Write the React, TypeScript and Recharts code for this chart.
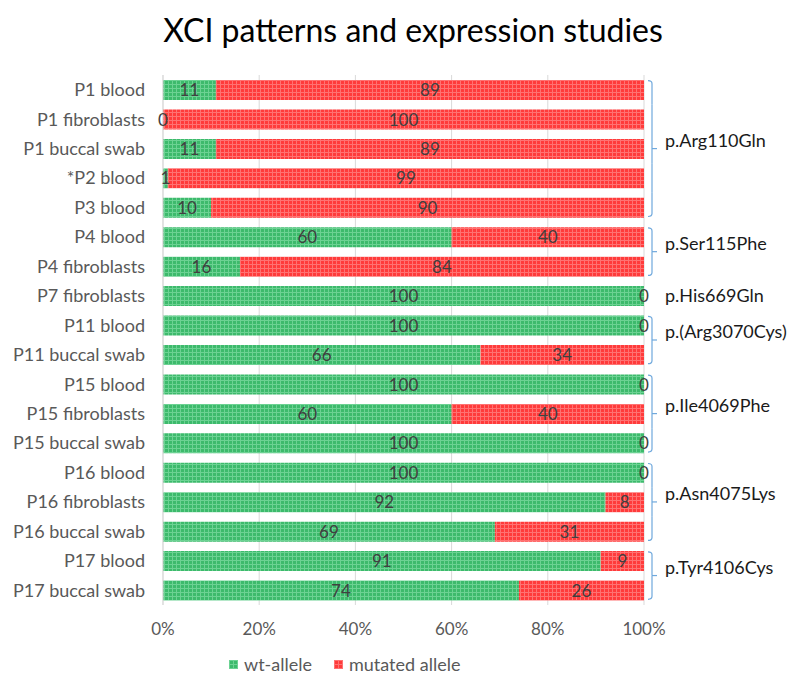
import React from 'react';
import {
  BarChart, Bar, XAxis, YAxis, CartesianGrid, LabelList, Legend,
} from 'recharts';

const CATEGORIES = [
  'P1 blood', 'P1 fibroblasts', 'P1 buccal swab', '*P2 blood', 'P3 blood',
  'P4 blood', 'P4 fibroblasts', 'P7 fibroblasts', 'P11 blood', 'P11 buccal swab',
  'P15 blood', 'P15 fibroblasts', 'P15 buccal swab', 'P16 blood', 'P16 fibroblasts',
  'P16 buccal swab', 'P17 blood', 'P17 buccal swab',
];
const WT_ALLELE = [11, 0, 11, 1, 10, 60, 16, 100, 100, 66, 100, 60, 100, 100, 92, 69, 91, 74];
const MUTATED_ALLELE = [89, 100, 89, 99, 90, 40, 84, 0, 0, 34, 0, 40, 0, 0, 8, 31, 9, 26];
const X_TICKS = [0, 20, 40, 60, 80, 100];
const GROUPS = [
  { label: 'p.Arg110Gln', start: 0, end: 4 },
  { label: 'p.Ser115Phe', start: 5, end: 6 },
  { label: 'p.His669Gln', start: 7, end: 7 },
  { label: 'p.(Arg3070Cys)', start: 8, end: 9 },
  { label: 'p.Ile4069Phe', start: 10, end: 12 },
  { label: 'p.Asn4075Lys', start: 13, end: 15 },
  { label: 'p.Tyr4106Cys', start: 16, end: 17 },
];

const data = CATEGORIES.map((name, i) => ({ name, wt: WT_ALLELE[i], mut: MUTATED_ALLELE[i] }));

const W = 784;
const H = 673;
const M_TOP = 67;
const M_BOTTOM = 46;
const X_AXIS_H = 30;
const STEP = (H - M_TOP - M_BOTTOM - X_AXIS_H) / CATEGORIES.length;
const FONT = 'Lato, "Open Sans", sans-serif';
const BRACKET = '#6FA8DC';

function BracketTick(props: any) {
  const { x, y, payload } = props;
  const i = payload.index;
  const g = GROUPS.find(gr => i >= gr.start && i <= gr.end);
  if (!g) return null;
  const tx = x + 21;
  if (g.start === g.end) {
    return (
      <text x={tx} y={y} dy="0.35em" fontSize={18} fill="#1a1a1a" fontFamily={FONT}>{g.label}</text>
    );
  }
  const vx = x + 8;
  const n = g.end - g.start + 1;
  const midRow = n % 2 === 1 ? g.start + (n - 1) / 2 : g.start + n / 2 - 1;
  const midY = n % 2 === 1 ? y : y + STEP / 2;
  const top = i === g.start ? y - 9 : y - STEP / 2;
  const bot = i === g.end ? y + 9 : y + STEP / 2;
  let d = '';
  if (i === g.start) d += `M${vx - 4},${top} Q${vx},${top} ${vx},${top + 3} `;
  else d += `M${vx},${top} `;
  if (i === g.end) d += `L${vx},${bot - 3} Q${vx},${bot} ${vx - 4},${bot}`;
  else d += `L${vx},${bot}`;
  return (
    <g>
      <path d={d} fill="none" stroke={BRACKET} strokeWidth={1.2} />
      {i === midRow && (
        <>
          <line x1={vx} x2={vx + 5} y1={midY} y2={midY} stroke={BRACKET} strokeWidth={1.2} />
          <text x={tx} y={midY - 8} dy="0.35em" fontSize={18} fill="#1a1a1a" fontFamily={FONT}>{g.label}</text>
        </>
      )}
    </g>
  );
}

function Num({ x, y, v }: { x: number; y: number; v: number }) {
  return (
    <text x={x} y={y} dy="0.36em" textAnchor="middle" fontSize={17} fill="#404040" fontFamily={FONT}>
      {v}
    </text>
  );
}

// recharts skips zero-width segments, so the neighbouring segment also prints
// the "0" at its own edge. The label value is the category name (row lookup).
function WtLabel(props: any) {
  const { x, y, width, height, value } = props;
  const i = CATEGORIES.indexOf(value);
  const cy = y + height / 2;
  return (
    <g>
      <Num x={x + width / 2} y={cy} v={WT_ALLELE[i]} />
      {MUTATED_ALLELE[i] === 0 && <Num x={x + width} y={cy} v={0} />}
    </g>
  );
}

function MutLabel(props: any) {
  const { x, y, width, height, value } = props;
  const i = CATEGORIES.indexOf(value);
  const cy = y + height / 2;
  return (
    <g>
      <Num x={x + width / 2} y={cy} v={MUTATED_ALLELE[i]} />
      {WT_ALLELE[i] === 0 && <Num x={x} y={cy} v={0} />}
    </g>
  );
}

function LegendContent() {
  const items = [
    { name: 'wt-allele', fill: 'url(#wtPat)' },
    { name: 'mutated allele', fill: 'url(#mutPat)' },
  ];
  return (
    <div style={{ display: 'flex', gap: 22, fontFamily: FONT, fontSize: 18, color: '#595959' }}>
      {items.map(it => (
        <div key={it.name} style={{ display: 'flex', alignItems: 'center', gap: 6 }}>
          <svg width={9} height={9}><rect width={9} height={9} fill={it.fill} /></svg>
          <span>{it.name}</span>
        </div>
      ))}
    </div>
  );
}

export default function App() {
  return (
    <div style={{ position: 'relative', width: W, height: H, fontFamily: FONT }}>
      <svg width={0} height={0} style={{ position: 'absolute' }}>
        <defs>
          <pattern id="wtPat" width={4} height={4} patternUnits="userSpaceOnUse">
            <rect width={4} height={4} fill="#3DBA6C" />
            <rect width={4} height={1} fill="#6CD293" />
            <rect width={1} height={4} fill="#6CD293" />
          </pattern>
          <pattern id="mutPat" width={4} height={4} patternUnits="userSpaceOnUse">
            <rect width={4} height={4} fill="#FF3B3B" />
            <rect width={4} height={1} fill="#FF7272" />
            <rect width={1} height={4} fill="#FF7272" />
          </pattern>
        </defs>
      </svg>
      <div style={{
        position: 'absolute', top: 2, left: 0, width: 810, textAlign: 'center',
        fontSize: 32, color: '#000', fontFamily: FONT,
      }}>
        XCI patterns and expression studies
      </div>
      <BarChart
        width={W} height={H} data={data} layout="vertical"
        margin={{ top: M_TOP, right: 0, bottom: M_BOTTOM, left: 0 }}
      >
        <CartesianGrid horizontal={false} stroke="#D9D9D9" />
        <XAxis
          type="number" domain={[0, 100]} ticks={X_TICKS} tickFormatter={v => `${v}%`}
          axisLine={false} tickLine={false} height={X_AXIS_H} tickMargin={12}
          tick={{ fontSize: 17, fill: '#595959', fontFamily: FONT }}
        />
        <YAxis
          yAxisId="left" type="category" dataKey="name" width={155}
          axisLine={{ stroke: '#D9D9D9' }} tickLine={false} tickSize={0} tickMargin={18}
          tick={{ fontSize: 18, fill: '#595959', fontFamily: FONT }}
        />
        <YAxis
          yAxisId="right" orientation="right" type="category" dataKey="name" width={148}
          axisLine={false} tickLine={false} tickSize={0} tickMargin={0}
          tick={<BracketTick />} interval={0}
        />
        <Legend
          layout="vertical" align="center" verticalAlign="middle"
          wrapperStyle={{ top: 645, left: 221, width: 320 }}
          content={<LegendContent />}
        />
        <Bar yAxisId="left" dataKey="wt" name="wt-allele" stackId="a" barSize={20}
          fill="url(#wtPat)" isAnimationActive={false}>
          <LabelList dataKey="name" content={<WtLabel />} />
        </Bar>
        <Bar yAxisId="left" dataKey="mut" name="mutated allele" stackId="a" barSize={20}
          fill="url(#mutPat)" isAnimationActive={false}>
          <LabelList dataKey="name" content={<MutLabel />} />
        </Bar>
      </BarChart>
    </div>
  );
}
